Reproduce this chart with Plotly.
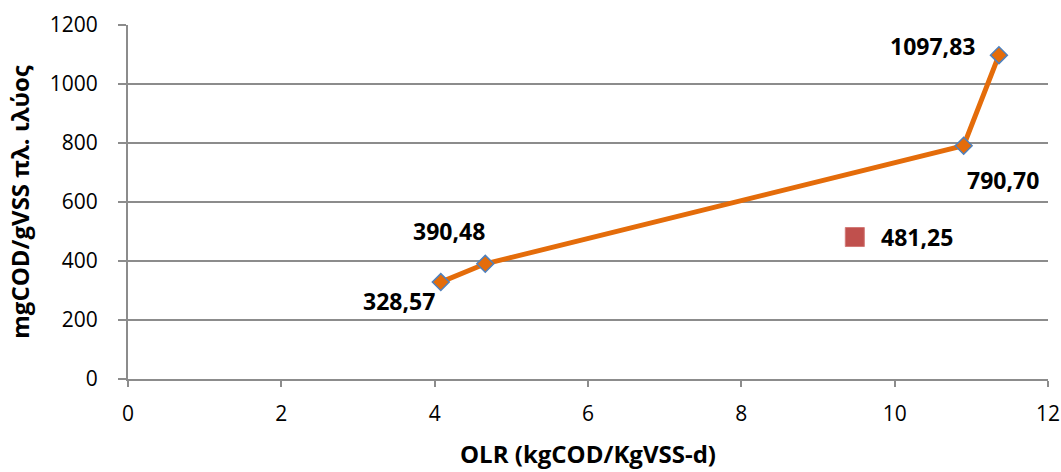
import plotly.graph_objects as go

# Organic loading rate vs. specific COD per gram of sludge VSS
olr = [4.08, 4.66, 10.90, 11.36]
cod = [328.57, 390.48, 790.70, 1097.83]
cod_labels = ["328,57", "390,48", "790,70", "1097,83"]

olr_single = [9.48]
cod_single = [481.25]
single_labels = ["481,25"]

x_ticks = [0, 2, 4, 6, 8, 10, 12]
y_ticks = [0, 200, 400, 600, 800, 1000, 1200]

FONT = "Open Sans"
GRID = "#8c8c8c"

fig = go.Figure()
fig.add_trace(go.Scatter(
    x=olr, y=cod, mode="lines+markers",
    line=dict(color="#E46C0A", width=5),
    marker=dict(symbol="diamond", size=13, color="#E46C0A",
                line=dict(color="#4F81BD", width=1.5)),
    showlegend=False, cliponaxis=False,
))
fig.add_trace(go.Scatter(
    x=olr_single, y=cod_single, mode="markers",
    marker=dict(symbol="square", size=19, color="#C0504D",
                line=dict(color="#D27A77", width=1)),
    showlegend=False,
))

# value labels placed around each marker
shifts = [(-42, -19), (-36, 33), (39, -34), (-66, 9)]
for xv, yv, txt, (dx, dy) in zip(olr, cod, cod_labels, shifts):
    fig.add_annotation(x=xv, y=yv, text=f"<b>{txt}</b>", showarrow=False,
                       xshift=dx, yshift=dy,
                       font=dict(family=FONT, size=23, color="black"))
for xv, yv, txt in zip(olr_single, cod_single, single_labels):
    fig.add_annotation(x=xv, y=yv, text=f"<b>{txt}</b>", showarrow=False,
                       xshift=62, yshift=0,
                       font=dict(family=FONT, size=23, color="black"))

fig.update_layout(
    width=1061, height=472,
    margin=dict(l=128, r=13, t=25, b=93),
    plot_bgcolor="white", paper_bgcolor="white",
    font=dict(family=FONT, size=21, color="black"),
    xaxis=dict(
        range=[0, 12], tickvals=x_ticks, ticktext=[str(v) for v in x_ticks],
        automargin=False,
        tickfont=dict(family=FONT, size=21),
        showgrid=False, zeroline=False,
        showline=True, linecolor=GRID, linewidth=2,
        ticks="outside", ticklen=6, tickcolor=GRID, tickwidth=2,
        ticklabelstandoff=9,
        title=dict(text="<b>OLR (kgCOD/KgVSS-d)</b>",
                   font=dict(family=FONT, size=24), standoff=20),
    ),
    yaxis=dict(
        range=[0, 1200], tickvals=y_ticks, ticktext=[str(v) for v in y_ticks],
        automargin=False,
        tickfont=dict(family=FONT, size=21),
        showgrid=True, gridcolor=GRID, gridwidth=2, zeroline=False,
        showline=True, linecolor=GRID, linewidth=2,
        ticks="outside", ticklen=8, tickcolor=GRID, tickwidth=2,
        ticklabelstandoff=16,
        title=dict(text="<b>mgCOD/gVSS πλ. ιλύος</b>",
                   font=dict(family=FONT, size=24), standoff=13),
    ),
)

fig.write_html("out.html")
